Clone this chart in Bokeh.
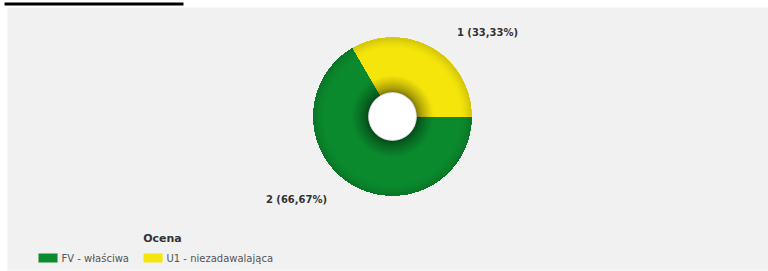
import math
from bokeh.plotting import figure
from bokeh.models import Range1d, BoxAnnotation, ColumnDataSource
from bokeh.core.properties import value
from bokeh.embed import file_html
from bokeh.resources import INLINE

# ---- data ----
categories = ["FV - właściwa", "U1 - niezadawalająca"]
counts = [2, 1]
colors = ["#0c8a2e", "#f5e50c"]
legend_title = "Ocena"

W, H = 768, 271
p = figure(width=W, height=H, output_backend="svg", toolbar_location=None,
           x_range=Range1d(0, W), y_range=Range1d(0, H), min_border=0,
           background_fill_color="white", border_fill_color="white", outline_line_color=None)
p.axis.visible = False
p.grid.visible = False

def Y(sy):
    return H - sy

# panel + top rule
p.add_layout(BoxAnnotation(left=7, right=W, bottom=Y(270), top=Y(7), fill_color="#f1f1f1", fill_alpha=1, line_color=None, level="underlay"))
p.add_layout(BoxAnnotation(left=4, right=183, bottom=Y(5), top=Y(2), fill_color="black", fill_alpha=1, line_color=None))

# donut
cx, cy = 392, Y(116)
r_in, r_out = 24, 79
total = sum(counts)
order = list(range(len(counts)))[::-1]
starts, ends = {}, {}
a = 0.0
for i in order:
    starts[i] = a
    a += 2 * math.pi * counts[i] / total
    ends[i] = a

def hex2rgb(h):
    h = h.lstrip("#")
    return tuple(int(h[k:k + 2], 16) for k in (0, 2, 4))

def shade(rgb, f):
    return "#%02x%02x%02x" % tuple(max(0, min(255, int(c * f))) for c in rgb)

def factor(r):
    t_in = (r - r_in) / 17.0
    f = 1.0
    if t_in < 1:
        f = 0.5 + 0.5 * (t_in ** 0.7)
    if r > 68:
        f *= 1 - 0.14 * ((r - 68) / 11.0) ** 1.5
    return f

xs, ys, ir, orr, sa, ea, fc = [], [], [], [], [], [], []
for i in range(len(counts)):
    rgb = hex2rgb(colors[i])
    r = r_in
    while r < r_out:
        xs.append(cx); ys.append(cy)
        ir.append(r); orr.append(r_out)
        sa.append(starts[i]); ea.append(ends[i])
        fc.append(shade(rgb, factor(r + 0.5)))
        r += 1
src = ColumnDataSource(dict(x=xs, y=ys, ir=ir, orr=orr, sa=sa, ea=ea, fc=fc))
p.annular_wedge(x="x", y="y", inner_radius="ir", outer_radius="orr", start_angle="sa", end_angle="ea",
                inner_radius_units="screen", outer_radius_units="screen",
                fill_color="fc", line_color=None, source=src)
p.scatter(x=[cx], y=[cy], size=2 * r_in, fill_color="white", line_color="#bbbbbb", line_alpha=0.6)

# slice labels
label_pos = {0: (296, 199), 1: (487, 32)}
for i in range(len(counts)):
    pct = 100.0 * counts[i] / total
    txt = f"{counts[i]} ({pct:.2f}%)".replace(".", ",")
    lx, ly = label_pos[i]
    p.text(x=[lx], y=[Y(ly)], text=[txt], text_align="center", text_baseline="middle",
           text_font=value("DejaVu Sans"), text_font_style="bold", text_font_size="10px",
           text_color="#333333")

# legend
p.text(x=[162], y=[Y(238)], text=[legend_title], text_align="center", text_baseline="middle",
       text_font=value("DejaVu Sans"), text_font_style="bold", text_font_size="11px", text_color="#333333")
sw_x = [38, 143]
for i, name in enumerate(categories):
    p.quad(left=[sw_x[i]], right=[sw_x[i] + 19], bottom=[Y(262)], top=[Y(253)],
           fill_color=colors[i], line_color=None)
    p.text(x=[sw_x[i] + 23], y=[Y(258)], text=[name], text_align="left", text_baseline="middle",
           text_font=value("DejaVu Sans"), text_font_size="10px", text_color="#555555")

open("out.html", "w").write(file_html(p, INLINE))
